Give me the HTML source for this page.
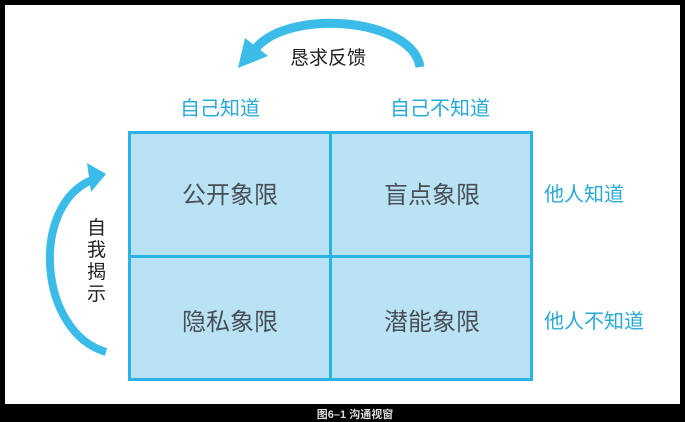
<!DOCTYPE html>
<html><head><meta charset="utf-8"><style>
html,body{margin:0;padding:0;background:#000;}
body{width:685px;height:422px;position:relative;overflow:hidden;font-family:"Liberation Sans","Noto Sans CJK SC",sans-serif;}
svg{position:absolute;left:0;top:0;}
</style></head><body>
<svg width="685" height="422" viewBox="0 0 685 422" xmlns="http://www.w3.org/2000/svg">
<rect x="0" y="0" width="685" height="422" fill="#000"/>
<rect x="5" y="5" width="675" height="399" fill="#fff"/>
<rect x="129.5" y="132.5" width="402" height="247" fill="#b9e3f5" stroke="#2cb3e6" stroke-width="3"/>
<line x1="330.5" y1="132" x2="330.5" y2="380" stroke="#2cb3e6" stroke-width="3"/>
<line x1="129" y1="256.5" x2="532" y2="256.5" stroke="#2cb3e6" stroke-width="3"/>
<g font-family="Liberation Sans, Noto Sans CJK SC, sans-serif" font-size="24" fill="#4a4f55" text-anchor="middle">
<text x="230" y="203">公开象限</text>
<text x="432" y="203">盲点象限</text>
<text x="230" y="330">隐私象限</text>
<text x="432" y="330">潜能象限</text>
</g>
<g font-family="Liberation Sans, Noto Sans CJK SC, sans-serif" font-size="20" fill="#29a9d8">
<text x="180" y="115">自己知道</text>
<text x="390" y="115">自己不知道</text>
<text x="544" y="201">他人知道</text>
<text x="544" y="328">他人不知道</text>
</g>
<g font-family="Liberation Sans, Noto Sans CJK SC, sans-serif" font-size="19" fill="#222">
<text x="290" y="64">恳求反馈</text>
<text x="87" y="234">自</text>
<text x="87" y="256">我</text>
<text x="87" y="278">揭</text>
<text x="87" y="300">示</text>
</g>
<path d="M 420 67 C 412 18, 290 8, 256 48" fill="none" stroke="#3bbbe8" stroke-width="9"/>
<polygon points="238,68 245,38 268,56" fill="#3bbbe8"/>
<path d="M 106 352 C 38 332, 30 205, 92 180" fill="none" stroke="#3bbbe8" stroke-width="8"/>
<polygon points="106,174 87,163 91,192" fill="#3bbbe8"/>
<text x="355" y="418" font-family="Liberation Sans, Noto Sans CJK SC, sans-serif" font-size="11" font-weight="bold" fill="#ddd" text-anchor="middle">图6–1 沟通视窗</text>
</svg>
</body></html>
